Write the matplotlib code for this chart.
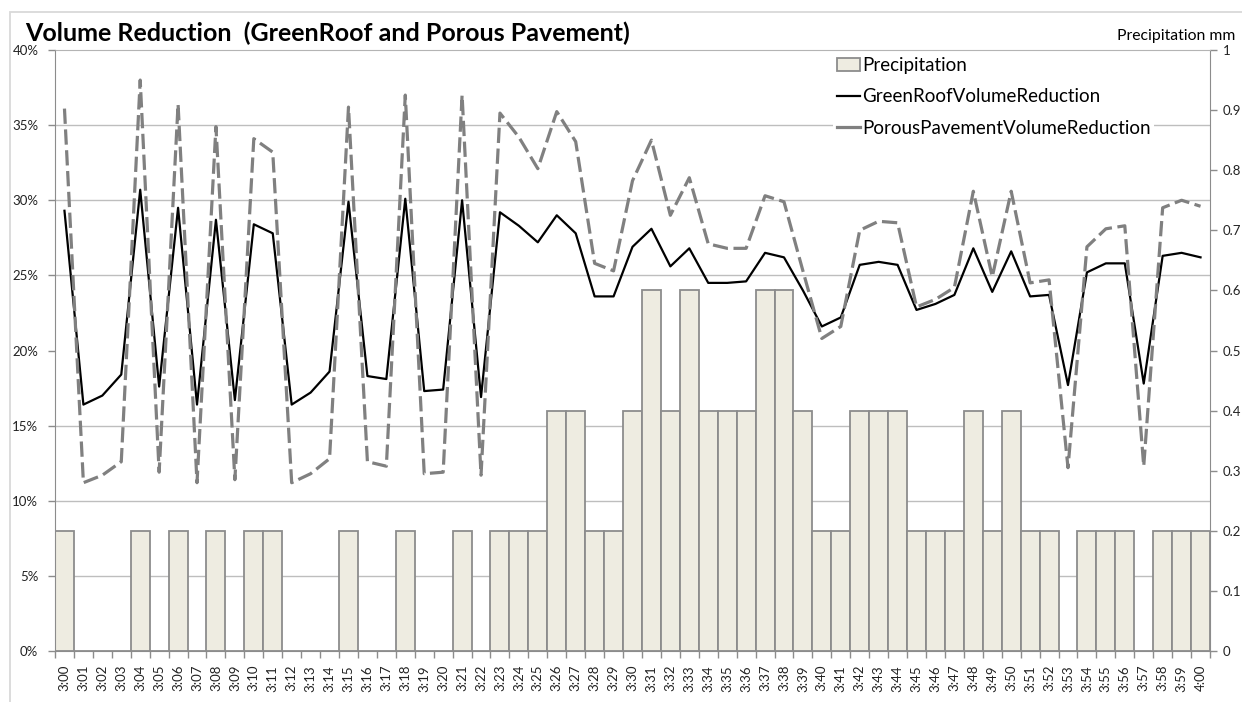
import matplotlib
matplotlib.use("Agg")
import matplotlib.pyplot as plt
from matplotlib.lines import Line2D
from matplotlib.patches import Patch, Rectangle
from matplotlib.ticker import FixedLocator, FuncFormatter
import numpy as np

plt.rcParams['font.family'] = ['Lato', 'DejaVu Sans']
plt.rcParams['lines.scale_dashes'] = False

times = ["3:00", "3:01", "3:02", "3:03", "3:04", "3:05", "3:06", "3:07", "3:08", "3:09",
         "3:10", "3:11", "3:12", "3:13", "3:14", "3:15", "3:16", "3:17", "3:18", "3:19",
         "3:20", "3:21", "3:22", "3:23", "3:24", "3:25", "3:26", "3:27", "3:28", "3:29",
         "3:30", "3:31", "3:32", "3:33", "3:34", "3:35", "3:36", "3:37", "3:38", "3:39",
         "3:40", "3:41", "3:42", "3:43", "3:44", "3:45", "3:46", "3:47", "3:48", "3:49",
         "3:50", "3:51", "3:52", "3:53", "3:54", "3:55", "3:56", "3:57", "3:58", "3:59",
         "4:00"]

precipitation = [0.2, 0, 0, 0, 0.2, 0, 0.2, 0, 0.2, 0,
                 0.2, 0.2, 0, 0, 0, 0.2, 0, 0, 0.2, 0,
                 0, 0.2, 0, 0.2, 0.2, 0.2, 0.4, 0.4, 0.2, 0.2,
                 0.4, 0.6, 0.4, 0.6, 0.4, 0.4, 0.4, 0.6, 0.6, 0.4,
                 0.2, 0.2, 0.4, 0.4, 0.4, 0.2, 0.2, 0.2, 0.4, 0.2,
                 0.4, 0.2, 0.2, 0, 0.2, 0.2, 0.2, 0, 0.2, 0.2,
                 0.2]

green_roof = [29.3, 16.4, 17.0, 18.4, 30.7, 17.6, 29.5, 16.4, 28.7, 16.7,
              28.4, 27.8, 16.4, 17.2, 18.6, 29.9, 18.3, 18.1, 30.1, 17.3,
              17.4, 30.0, 16.9, 29.2, 28.3, 27.2, 29.0, 27.8, 23.6, 23.6,
              26.9, 28.1, 25.6, 26.8, 24.5, 24.5, 24.6, 26.5, 26.2, 24.0,
              21.6, 22.2, 25.7, 25.9, 25.7, 22.7, 23.1, 23.7, 26.8, 23.9,
              26.6, 23.6, 23.7, 17.7, 25.2, 25.8, 25.8, 17.8, 26.3, 26.5,
              26.2]

porous_pavement = [36.1, 11.2, 11.7, 12.6, 38.0, 11.9, 36.4, 11.2, 34.9, 11.4,
                   34.1, 33.2, 11.2, 11.8, 12.8, 36.2, 12.6, 12.3, 37.0, 11.8,
                   11.9, 37.0, 11.7, 35.8, 34.2, 32.1, 35.9, 33.9, 25.8, 25.3,
                   31.3, 34.0, 29.0, 31.5, 27.1, 26.8, 26.8, 30.3, 29.9, 25.3,
                   20.8, 21.6, 28.0, 28.6, 28.5, 22.9, 23.4, 24.2, 30.6, 24.9,
                   30.6, 24.5, 24.7, 12.2, 26.9, 28.1, 28.3, 12.3, 29.5, 30.0,
                   29.6]

W, H = 1242, 702
fig = plt.figure(figsize=(W / 100, H / 100), dpi=100)
L, R, T, B = 55, 1210, 50, 651
ax = fig.add_axes([L / W, 1 - B / H, (R - L) / W, (B - T) / H])
ax2 = ax.twinx()

x = np.arange(len(times))
# bars (secondary / right axis)
ax.bar(x, precipitation, width=1.0, color='#EEECE1', edgecolor='#8C8C8C',
       linewidth=1.3, zorder=2)
ax.set_xlim(-0.5, len(times) - 0.5)
ax.set_ylim(0, 1)
ax.yaxis.tick_right()
ax.set_yticks(np.round(np.arange(0, 1.01, 0.1), 1))
ax.yaxis.set_major_formatter(FuncFormatter(lambda v, p: '0' if v == 0 else ('1' if v == 1 else f'{v:.1f}')))
ax.yaxis.set_minor_locator(FixedLocator(np.arange(0.125, 1.0, 0.125)))
ax.grid(which='minor', axis='y', color='#BEBEBE', linewidth=1.0, zorder=0)
ax.set_axisbelow(True)
ax.tick_params(axis='y', which='major', direction='out', length=5, width=1,
               color='#8C8C8C', labelsize=9.5, pad=4, labelcolor='#222222')
ax.tick_params(axis='y', which='minor', length=0)

ax.set_xticks(x)
ax.set_xticklabels(times, rotation=90)
ax.xaxis.set_minor_locator(FixedLocator(np.arange(-0.5, len(times), 1.0)))
ax.tick_params(axis='x', which='major', length=0, labelsize=9.5, pad=10, labelcolor='#222222')
ax.tick_params(axis='x', which='minor', direction='out', length=5, width=1, color='#8C8C8C')

for s in ['left', 'right', 'bottom']:
    ax.spines[s].set_color('#8C8C8C')
ax.spines['top'].set_color('#B4B4B4')
for s in ax2.spines.values():
    s.set_visible(False)

# lines (primary / left axis)
ax2.plot(x, np.array(green_roof) / 100, color='black', linewidth=1.6, zorder=3)
ax2.plot(x, np.array(porous_pavement) / 100, color='#808080', linewidth=2.3,
         linestyle=(0, (11, 4)), zorder=4)
ax2.set_ylim(0, 0.4)
ax2.yaxis.tick_left()
ax2.set_yticks(np.round(np.arange(0, 0.401, 0.05), 2))
ax2.yaxis.set_major_formatter(FuncFormatter(lambda v, p: f'{v * 100:.0f}%'))
ax2.tick_params(axis='y', direction='out', length=5, width=1, color='#8C8C8C',
                labelsize=9.5, pad=7, labelcolor='#222222')

handles = [Patch(facecolor='#EEECE1', edgecolor='#8C8C8C', linewidth=1.3),
           Line2D([0], [0], color='black', linewidth=1.6),
           Line2D([0], [0], color='#808080', linewidth=2.3)]
labels = ['Precipitation', 'GreenRoofVolumeReduction', 'PorousPavementVolumeReduction']
leg = ax2.legend(handles, labels, loc='upper left',
                 bbox_to_anchor=(833 / W, 1 - 53 / H), bbox_transform=fig.transFigure,
                 fontsize=13.5, frameon=True, facecolor='white', edgecolor='none',
                 framealpha=1, fancybox=False, handlelength=1.25, handletextpad=0.1,
                 labelspacing=0.78, borderpad=0.2, borderaxespad=0)

fig.text(25 / W, 1 - 41 / H, 'Volume Reduction  (GreenRoof and Porous Pavement)',
         fontsize=18, fontweight='bold', va='baseline', ha='left')
fig.text(1235 / W, 1 - 40 / H, 'Precipitation mm', fontsize=11.3, va='baseline', ha='right')

fig.add_artist(Rectangle((10 / W, -0.1), 1.2, 1 - 12 / H + 0.1, transform=fig.transFigure,
                         fill=False, edgecolor='#D9D9D9', linewidth=1.3))

fig.savefig('out.png', dpi=100, facecolor='white')
